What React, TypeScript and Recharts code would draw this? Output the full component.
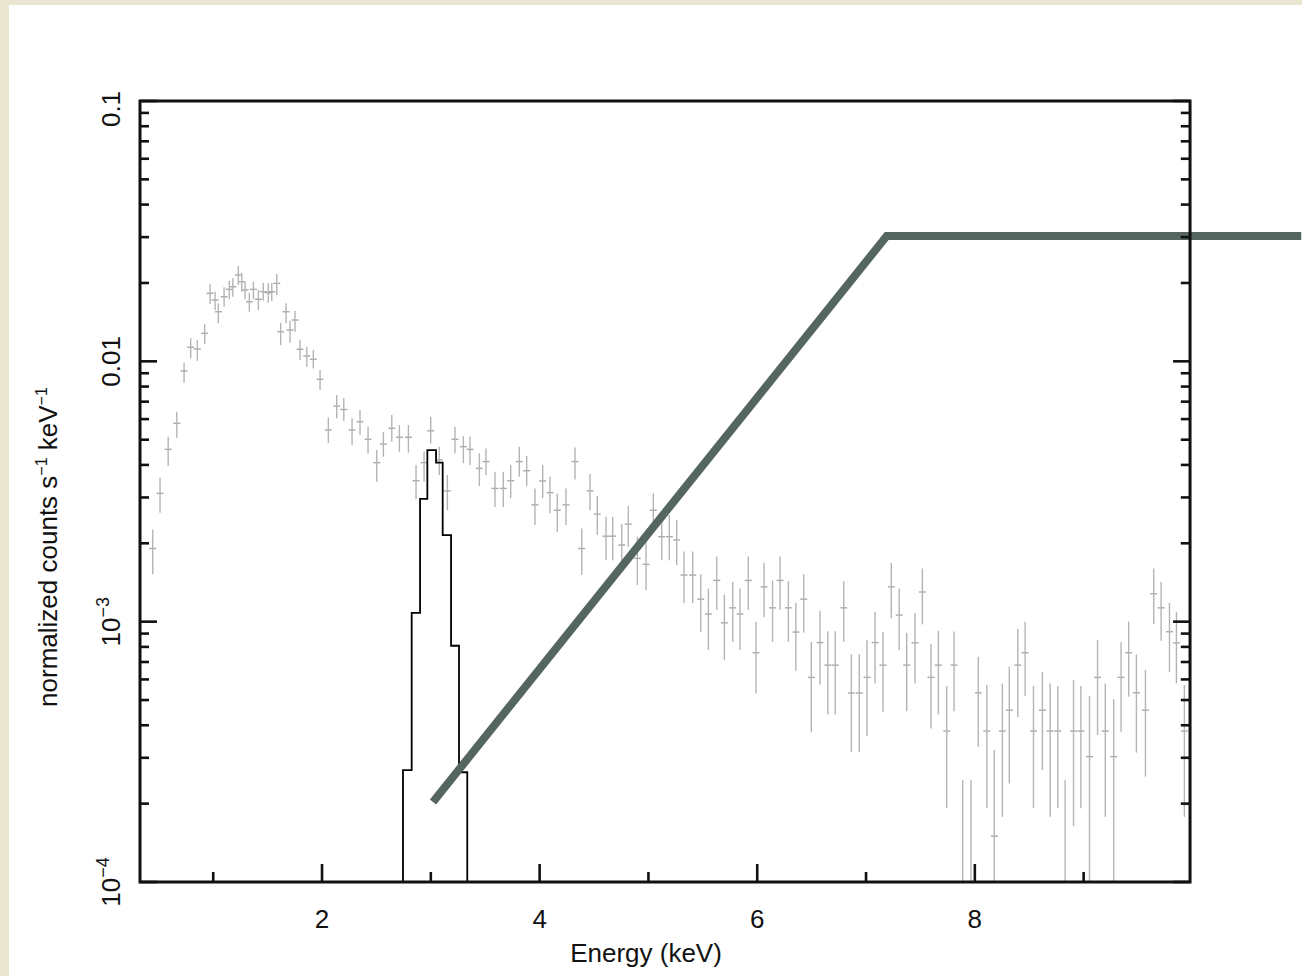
import React from "react";
import { ComposedChart, Scatter, Line, XAxis, YAxis, ErrorBar, ReferenceArea, ReferenceLine, Label } from "recharts";

// observed spectrum: bin centre (keV), rate, lower and upper end of the error bar
// (bins whose value or lower end falls under the plot floor are kept at 1e-4)
const energy = [
  0.444, 0.511, 0.586, 0.665, 0.732, 0.793, 0.854, 0.922, 0.971, 1.017, 1.047, 1.1, 1.148, 1.18, 1.231, 1.262, 1.293, 1.332, 1.369, 1.415,
  1.46, 1.506, 1.538, 1.584, 1.62, 1.669, 1.706, 1.752, 1.798, 1.86, 1.92, 1.982, 2.058, 2.135, 2.2, 2.276, 2.349, 2.423, 2.503, 2.564,
  2.641, 2.711, 2.794, 2.864, 2.938, 2.999, 3.078, 3.152, 3.222, 3.299, 3.36, 3.446, 3.507, 3.59, 3.666, 3.734, 3.813, 3.881, 3.957, 4.028,
  4.095, 4.162, 4.242, 4.325, 4.387, 4.463, 4.53, 4.61, 4.672, 4.755, 4.815, 4.898, 4.978, 5.045, 5.122, 5.192, 5.26, 5.327, 5.407, 5.481,
  5.551, 5.628, 5.698, 5.775, 5.842, 5.918, 5.989, 6.063, 6.141, 6.21, 6.286, 6.355, 6.427, 6.497, 6.577, 6.649, 6.717, 6.795, 6.865, 6.938,
  7.009, 7.083, 7.156, 7.232, 7.305, 7.374, 7.45, 7.518, 7.597, 7.665, 7.742, 7.809, 7.889, 7.965, 8.032, 8.11, 8.179, 8.253, 8.317, 8.395,
  8.462, 8.539, 8.621, 8.692, 8.763, 8.83, 8.907, 8.975, 9.054, 9.128, 9.199, 9.276, 9.344, 9.414, 9.485, 9.568, 9.644, 9.712, 9.789, 9.853,
  9.926,
];
const rate = [
  1.91e-3, 3.11e-3, 4.59e-3, 5.78e-3, 9.18e-3, 1.132e-2, 1.115e-2, 1.281e-2, 1.825e-2, 1.72e-2, 1.551e-2, 1.771e-2, 1.89e-2, 1.934e-2, 2.145e-2, 2.022e-2, 1.879e-2, 1.694e-2, 1.89e-2, 1.731e-2,
  1.851e-2, 1.834e-2, 1.851e-2, 1.993e-2, 1.299e-2, 1.551e-2, 1.319e-2, 1.441e-2, 1.112e-2, 1.048e-2, 1.018e-2, 8.53e-3, 5.45e-3, 6.73e-3, 6.53e-3, 5.45e-3, 5.86e-3, 5.02e-3, 4.08e-3, 4.81e-3,
  5.53e-3, 5.11e-3, 5.11e-3, 3.48e-3, 4.08e-3, 5.41e-3, 4.18e-3, 3.18e-3, 5.02e-3, 4.7e-3, 4.59e-3, 3.88e-3, 4.12e-3, 3.25e-3, 3.25e-3, 3.48e-3, 4.12e-3, 3.8e-3, 2.81e-3, 3.47e-3,
  3.13e-3, 2.68e-3, 2.81e-3, 4.12e-3, 1.91e-3, 3.18e-3, 2.59e-3, 2.13e-3, 2.13e-3, 1.97e-3, 2.37e-3, 1.75e-3, 1.66e-3, 2.68e-3, 2.12e-3, 2.12e-3, 2.06e-3, 1.51e-3, 1.51e-3, 1.22e-3,
  1.07e-3, 1.44e-3, 9.9e-4, 1.13e-3, 1.07e-3, 1.44e-3, 7.6e-4, 1.36e-3, 1.13e-3, 1.44e-3, 1.13e-3, 9.12e-4, 1.22e-3, 6.11e-4, 8.31e-4, 6.81e-4, 6.81e-4, 1.13e-3, 5.32e-4, 5.32e-4,
  6.11e-4, 8.31e-4, 6.81e-4, 1.36e-3, 1.06e-3, 6.81e-4, 8.29e-4, 1.3e-3, 6.11e-4, 6.81e-4, 3.8e-4, 6.81e-4, 1e-4, 1e-4, 5.33e-4, 3.8e-4, 1.5e-4, 3.8e-4, 4.57e-4, 6.81e-4,
  7.6e-4, 3.8e-4, 4.57e-4, 3.8e-4, 3.8e-4, 1e-4, 3.8e-4, 3.8e-4, 3.03e-4, 6.11e-4, 3.8e-4, 3.03e-4, 6.11e-4, 7.6e-4, 5.33e-4, 4.57e-4, 1.28e-3, 1.13e-3, 9.15e-4, 8.29e-4,
  3.8e-4,
];
const rateLo = [
  1.52e-3, 2.62e-3, 3.96e-3, 5.09e-3, 8.28e-3, 1.027e-2, 1.005e-2, 1.166e-2, 1.66e-2, 1.574e-2, 1.4e-2, 1.621e-2, 1.731e-2, 1.771e-2, 1.964e-2, 1.851e-2, 1.731e-2, 1.551e-2, 1.731e-2, 1.574e-2,
  1.709e-2, 1.679e-2, 1.7e-2, 1.797e-2, 1.155e-2, 1.4e-2, 1.179e-2, 1.299e-2, 1.012e-2, 9.53e-3, 9.4e-3, 7.76e-3, 4.85e-3, 6.04e-3, 5.9e-3, 4.77e-3, 5.21e-3, 4.43e-3, 3.45e-3, 4.3e-3,
  4.91e-3, 4.49e-3, 4.46e-3, 2.95e-3, 3.45e-3, 4.84e-3, 3.66e-3, 2.68e-3, 4.43e-3, 4.06e-3, 4.0e-3, 3.32e-3, 3.66e-3, 2.76e-3, 2.76e-3, 2.98e-3, 3.6e-3, 3.32e-3, 2.35e-3, 2.98e-3,
  2.61e-3, 2.21e-3, 2.35e-3, 3.52e-3, 1.51e-3, 2.68e-3, 2.15e-3, 1.72e-3, 1.72e-3, 1.63e-3, 1.94e-3, 1.38e-3, 1.32e-3, 2.25e-3, 1.72e-3, 1.72e-3, 1.65e-3, 1.18e-3, 1.18e-3, 9.15e-4,
  7.78e-4, 1.11e-3, 7.12e-4, 8.37e-4, 7.78e-4, 1.11e-3, 5.3e-4, 1.04e-3, 8.35e-4, 1.11e-3, 8.37e-4, 6.46e-4, 9.08e-4, 3.76e-4, 5.74e-4, 4.4e-4, 4.4e-4, 8.37e-4, 3.15e-4, 3.15e-4,
  3.64e-4, 5.79e-4, 4.51e-4, 1.03e-3, 7.78e-4, 4.53e-4, 5.79e-4, 9.76e-4, 3.89e-4, 4.4e-4, 1.92e-4, 4.53e-4, 1e-4, 1e-4, 3.31e-4, 1.92e-4, 1e-4, 1.78e-4, 2.39e-4, 4.29e-4,
  5.18e-4, 1.92e-4, 2.69e-4, 1.78e-4, 1.92e-4, 1e-4, 1.64e-4, 1.92e-4, 1e-4, 3.67e-4, 1.78e-4, 1e-4, 3.78e-4, 5.15e-4, 3.14e-4, 2.54e-4, 9.79e-4, 8.45e-4, 6.42e-4, 5.79e-4,
  1.78e-4,
];
const rateHi = [
  2.26e-3, 3.58e-3, 5.13e-3, 6.4e-3, 9.88e-3, 1.226e-2, 1.207e-2, 1.391e-2, 1.982e-2, 1.851e-2, 1.67e-2, 1.924e-2, 2.04e-2, 2.084e-2, 2.323e-2, 2.19e-2, 2.022e-2, 1.834e-2, 2.022e-2, 1.879e-2,
  2.004e-2, 1.995e-2, 2.0e-2, 2.165e-2, 1.407e-2, 1.67e-2, 1.432e-2, 1.561e-2, 1.207e-2, 1.138e-2, 1.105e-2, 9.26e-3, 6.08e-3, 7.42e-3, 7.23e-3, 6.05e-3, 6.5e-3, 5.61e-3, 4.56e-3, 5.36e-3,
  6.22e-3, 5.69e-3, 5.69e-3, 4.0e-3, 4.49e-3, 6.13e-3, 4.7e-3, 3.66e-3, 5.61e-3, 5.16e-3, 5.13e-3, 4.43e-3, 4.63e-3, 3.77e-3, 3.77e-3, 4.0e-3, 4.7e-3, 4.33e-3, 3.25e-3, 4.0e-3,
  3.6e-3, 3.11e-3, 3.25e-3, 4.67e-3, 2.28e-3, 3.69e-3, 3.04e-3, 2.53e-3, 2.53e-3, 2.37e-3, 2.78e-3, 2.12e-3, 2.03e-3, 3.11e-3, 2.57e-3, 2.57e-3, 2.46e-3, 1.86e-3, 1.86e-3, 1.52e-3,
  1.34e-3, 1.78e-3, 1.27e-3, 1.42e-3, 1.34e-3, 1.78e-3, 1.0e-3, 1.68e-3, 1.44e-3, 1.78e-3, 1.43e-3, 1.18e-3, 1.52e-3, 8.37e-4, 1.1e-3, 9.19e-4, 9.19e-4, 1.43e-3, 7.49e-4, 7.49e-4,
  8.5e-4, 1.09e-3, 9.12e-4, 1.68e-3, 1.34e-3, 9.06e-4, 1.08e-3, 1.6e-3, 8.2e-4, 9.23e-4, 5.66e-4, 9.16e-4, 2.46e-4, 2.46e-4, 7.33e-4, 5.71e-4, 3.21e-4, 5.79e-4, 6.71e-4, 9.37e-4,
  1.0e-3, 5.66e-4, 6.42e-4, 5.79e-4, 5.66e-4, 2.46e-4, 5.97e-4, 5.66e-4, 5.18e-4, 8.5e-4, 5.79e-4, 5.04e-4, 8.33e-4, 1.0e-3, 7.49e-4, 6.52e-4, 1.6e-3, 1.42e-3, 1.18e-3, 1.09e-3,
  5.71e-4,
];
const BIN_HALF = 0.032;

// line model, drawn as a histogram
const modelEdges = [2.744, 2.824, 2.901, 2.968, 3.048, 3.109, 3.186, 3.259, 3.335];
const modelRate = [2.69e-4, 1.08e-3, 2.96e-3, 4.56e-3, 4.08e-3, 2.15e-3, 8.08e-4, 2.64e-4];
const MODEL_FLOOR = 1e-6;

// thick overlay line
const trendEnergy = [3.02, 7.19, 11.0];
const trendRate = [2.03e-4, 0.0303, 0.0303];

const xTicks = [1, 2, 3, 4, 5, 6, 7, 8, 9];
const xLabelled = [2, 4, 6, 8];
const yTicks = [
  1e-4, 2e-4, 3e-4, 4e-4, 5e-4, 6e-4, 7e-4, 8e-4, 9e-4,
  1e-3, 2e-3, 3e-3, 4e-3, 5e-3, 6e-3, 7e-3, 8e-3, 9e-3,
  0.01, 0.02, 0.03, 0.04, 0.05, 0.06, 0.07, 0.08, 0.09, 0.1,
];
const yMajor = [1e-4, 1e-3, 0.01, 0.1];
const yMajorBase = ["10", "10", "0.01", "0.1"];
const yMajorExp = ["\u22124", "\u22123", "", ""];

const X_MIN = 0.327;
const X_MAX = 11.007;
const FRAME_RIGHT = 9.978;
const Y_MIN = 1e-4;
const Y_MAX = 0.1;

const INK = "#111";
const FONT = '"Liberation Sans", Arial, Helvetica, sans-serif';
const FS = 26;
const BEIGE = "#e9e6d2";

const spectrum = energy.map((e, i) => ({
  x: e,
  y: rate[i],
  ex: BIN_HALF,
  ey: [rate[i] - rateLo[i], rateHi[i] - rate[i]],
}));

const modelData = [
  { x: modelEdges[0], y: MODEL_FLOOR },
  ...modelRate.map((r, i) => ({ x: modelEdges[i], y: r })),
  { x: modelEdges[modelEdges.length - 1], y: MODEL_FLOOR },
];

const trendData = trendEnergy.map((e, i) => ({ x: e, y: trendRate[i] }));

const majorIndex = (v: number) => yMajor.findIndex((m) => Math.abs(v / m - 1) < 1e-6);

const BottomTick = ({ x, y, payload }: any) => {
  const major = xLabelled.includes(payload.value);
  return (
    <g>
      <line x1={x} y1={y} x2={x} y2={y - (major ? 18 : 10)} stroke={INK} strokeWidth={2.6} />
      {major && (
        <text x={x} y={y + 46} textAnchor="middle" fontSize={FS} fontFamily={FONT} fill={INK}>
          {payload.value}
        </text>
      )}
    </g>
  );
};

const TopTick = ({ x, y, payload }: any) => {
  const major = xLabelled.includes(payload.value);
  return <line x1={x} y1={y} x2={x} y2={y + (major ? 18 : 10)} stroke={INK} strokeWidth={2.6} />;
};

const LeftTick = ({ x, y, payload }: any) => {
  const i = majorIndex(payload.value);
  const major = i >= 0;
  const lx = x - 20;
  // the top label sits a little below its tick, as in the original plot
  const ly = i === yMajor.length - 1 ? y + 8 : y;
  return (
    <g>
      <line x1={x} y1={y} x2={x + (major ? 17 : 9)} y2={y} stroke={INK} strokeWidth={2.6} />
      {major && (
        <text transform={`rotate(-90 ${lx} ${ly})`} x={lx} y={ly} textAnchor="middle" fontSize={FS} fontFamily={FONT} fill={INK}>
          {yMajorBase[i]}
          {yMajorExp[i] && (
            <tspan dy={-11} fontSize={18}>
              {yMajorExp[i]}
            </tspan>
          )}
        </text>
      )}
    </g>
  );
};

const YTitle = ({ viewBox }: any) => {
  const vb = viewBox ?? { x: 0, y: 101 };
  const cx = vb.x + 57;
  const cy = vb.y + 446;
  return (
    <text transform={`rotate(-90 ${cx} ${cy})`} x={cx} y={cy} textAnchor="middle" fontSize={FS} fontFamily={FONT} fill={INK}>
      normalized counts s
      <tspan dy={-10} fontSize={16}>{"\u22121"}</tspan>
      <tspan dy={10}> keV</tspan>
      <tspan dy={-10} fontSize={16}>{"\u22121"}</tspan>
    </text>
  );
};

const XTitle = ({ viewBox }: any) => {
  const vb = viewBox ?? { x: 140, y: 882 };
  return (
    <text x={vb.x + 506} y={vb.y + 80} textAnchor="middle" fontSize={FS} fontFamily={FONT} fill={INK}>
      Energy (keV)
    </text>
  );
};

export default function App() {
  return (
    <div style={{ position: "absolute", left: 0, top: 0, width: 1302, height: 976, background: BEIGE, overflow: "hidden" }}>
      <div style={{ position: "absolute", left: 9, top: 5, right: 0, bottom: 0, background: "#fff" }} />
      <div style={{ position: "absolute", left: 0, top: 0, fontFamily: FONT }}>
        <ComposedChart width={1302} height={976} margin={{ top: 100, right: 0, bottom: 0, left: 0 }}>
          <XAxis
            xAxisId={0}
            dataKey="x"
            type="number"
            domain={[X_MIN, X_MAX]}
            allowDataOverflow
            ticks={xTicks}
            interval={0}
            axisLine={false}
            tickLine={false}
            tickSize={0}
            tickMargin={0}
            height={94}
            tick={<BottomTick />}
          >
            <Label content={<XTitle />} />
          </XAxis>
          <XAxis
            xAxisId="top"
            orientation="top"
            type="number"
            domain={[X_MIN, X_MAX]}
            allowDataOverflow
            ticks={xTicks}
            interval={0}
            axisLine={false}
            tickLine={false}
            tickSize={0}
            tickMargin={0}
            height={1}
            tick={<TopTick />}
          />
          <YAxis
            dataKey="y"
            type="number"
            scale="log"
            domain={[Y_MIN, Y_MAX]}
            allowDataOverflow
            ticks={yTicks}
            interval={0}
            axisLine={false}
            tickLine={false}
            tickSize={0}
            tickMargin={0}
            width={140}
            tick={<LeftTick />}
          >
            <Label content={<YTitle />} />
          </YAxis>

          <Scatter data={spectrum} dataKey="y" isAnimationActive={false} shape={() => <g />}>
            <ErrorBar dataKey="ex" direction="x" width={0} stroke="#a9a9a9" strokeWidth={1.4} isAnimationActive={false} />
            <ErrorBar dataKey="ey" direction="y" width={0} stroke="#b4b4b4" strokeWidth={1.4} isAnimationActive={false} />
          </Scatter>

          <Line data={modelData} dataKey="y" type="stepAfter" stroke="#000" strokeWidth={1.8} dot={false} activeDot={false} isAnimationActive={false} />
          <Line data={trendData} dataKey="y" type="linear" stroke="#55655f" strokeWidth={8} dot={false} activeDot={false} isAnimationActive={false} />

          {yTicks.map((v) => (
            <ReferenceLine
              key={`r-${v}`}
              segment={[
                { x: FRAME_RIGHT - (majorIndex(v) >= 0 ? 0.156 : 0.085), y: v },
                { x: FRAME_RIGHT, y: v },
              ]}
              stroke={INK}
              strokeWidth={2.6}
              ifOverflow="visible"
              zIndex={1000}
            />
          ))}
          <ReferenceArea
            x1={X_MIN}
            x2={FRAME_RIGHT}
            y1={Y_MIN}
            y2={Y_MAX}
            fill="none"
            stroke={INK}
            strokeWidth={3}
            ifOverflow="visible"
            zIndex={1000}
          />
        </ComposedChart>
      </div>
    </div>
  );
}
